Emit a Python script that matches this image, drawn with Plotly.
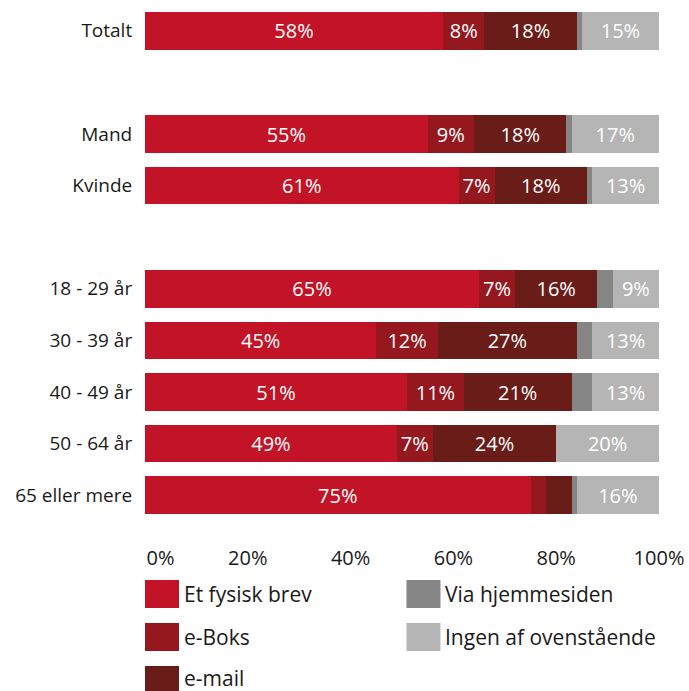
import plotly.graph_objects as go

# Rows of the chart (blank rows separate the groups)
categories = ["Totalt", "", "Mand", "Kvinde", "", "18 - 29 år", "30 - 39 år",
              "40 - 49 år", "50 - 64 år", "65 eller mere"]

series_names = ["Et fysisk brev", "e-Boks", "e-mail", "Via hjemmesiden",
                "Ingen af ovenstående"]
series_colors = ["#C31327", "#96181F", "#6A1C18", "#858585", "#B4B5B4"]

# Percentages per series, one value per row (None on the blank rows)
fysisk_brev = [58, None, 55, 61, None, 65, 45, 51, 49, 75]
e_boks = [8, None, 9, 7, None, 7, 12, 11, 7, 3]
e_mail = [18, None, 18, 18, None, 16, 27, 21, 24, 5]
hjemmeside = [1, None, 1, 1, None, 3, 3, 4, 0, 1]
ingen = [15, None, 17, 13, None, 9, 13, 13, 20, 16]

x_ticks = [0, 20, 40, 60, 80, 100]
# the first label is padded so it starts at the axis origin instead of centring on it
x_ticktext = ["\u00a0" * 6 + "0%", "20%", "40%", "60%", "80%", "100%"]

series_values = [fysisk_brev, e_boks, e_mail, hjemmeside, ingen]
show_label = [True, True, True, False, True]

FONT = "Open Sans, Noto Sans, sans-serif"
W, H = 689, 691
M_L, M_R, M_T, M_B = 145, 27, 5, 170

row_pos = list(range(len(categories)))
label_pos = [i for i, c in enumerate(categories) if c]
label_txt = [c for c in categories if c]

fig = go.Figure()
for name, color, vals, lab in zip(series_names, series_colors, series_values, show_label):
    texts = [(f"{v}%" if (lab and v is not None and v >= 6) else "") for v in vals]
    fig.add_trace(go.Bar(
        name=name,
        y=row_pos,
        x=vals,
        orientation="h",
        width=0.73,
        marker=dict(color=color, line=dict(width=0)),
        text=texts,
        textposition="inside",
        insidetextanchor="middle",
        textangle=0,
        textfont=dict(family=FONT, size=20, color="#FFFFFF"),
        showlegend=False,
        hoverinfo="skip",
    ))

fig.update_layout(
    width=W, height=H,
    margin=dict(l=M_L, r=M_R, t=M_T, b=M_B),
    barmode="stack",
    plot_bgcolor="white",
    paper_bgcolor="white",
    uniformtext=dict(minsize=20, mode="show"),
    font=dict(family=FONT, color="#1A1A1A"),
    xaxis=dict(
        range=[0, 100],
        tickvals=x_ticks,
        ticktext=x_ticktext,
        showgrid=False, zeroline=False, showline=False,
        ticks="outside", ticklen=19, tickcolor="rgba(0,0,0,0)",
        tickfont=dict(family=FONT, size=20, color="#1A1A1A"),
        fixedrange=True,
    ),
    yaxis=dict(
        range=[len(categories) - 0.5, -0.5],
        tickvals=label_pos,
        ticktext=label_txt,
        showgrid=False, zeroline=False, showline=False,
        ticks="outside", ticklen=8, tickcolor="rgba(0,0,0,0)",
        tickfont=dict(family=FONT, size=19, color="#1A1A1A"),
        fixedrange=True,
    ),
)

# Legend drawn below the plot: two columns of large colour swatches
plot_w = W - M_L - M_R
plot_h = H - M_T - M_B
col_x_px = [0, 263]          # swatch left edge, relative to plot left
row_y_px = [73, 116, 159]    # swatch centre, below plot bottom
slots = [(0, 0), (0, 1), (0, 2), (1, 0), (1, 1)]
for (col, row), name, color in zip(slots, series_names, series_colors):
    xa = col_x_px[col] / plot_w
    ya = -row_y_px[row] / plot_h
    fig.add_shape(
        type="rect", xref="paper", yref="paper",
        xsizemode="pixel", ysizemode="pixel",
        xanchor=xa, yanchor=ya,
        x0=0, x1=34, y0=-14, y1=14,
        fillcolor=color, line=dict(width=0),
    )
    fig.add_annotation(
        xref="paper", yref="paper", x=xa, y=ya,
        xshift=37, yshift=2 if row == 2 else 0,
        text=name, showarrow=False,
        xanchor="left", yanchor="middle",
        font=dict(family=FONT, size=21, color="#1A1A1A"),
    )

fig.write_html("out.html")
